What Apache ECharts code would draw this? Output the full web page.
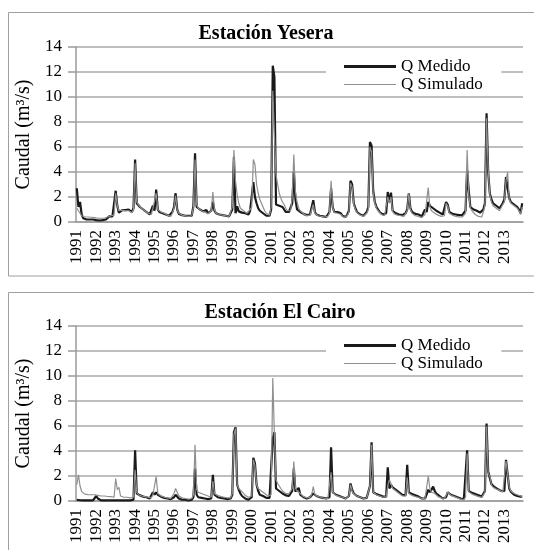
<!DOCTYPE html>
<html lang="es">
<head>
<meta charset="UTF-8">
<script src="https://cdn.jsdelivr.net/npm/echarts@6/dist/echarts.min.js"></script>
<title>Caudales</title>
<style>
  html, body { margin: 0; padding: 0; background: #fff; }
  #main { width: 534px; height: 550px; }
</style>
</head>
<body>
<div id="main"></div>
<script>
// años del eje x (etiquetas) y meses (categorias)
var years = ['1991','1992','1993','1994','1995','1996','1997','1998','1999','2000','2001','2002',
             '2003','2004','2005','2006','2007','2008','2009','2010','2011','2012','2013'];
var yTicks = [0, 2, 4, 6, 8, 10, 12, 14];

// Estación Yesera, caudal mensual (m3/s), ene..dic de cada año
var yeseraMedido = [
  2.7, 1.2, 1.6, 0.6, 0.3, 0.25, 0.2, 0.2, 0.2, 0.2, 0.2, 0.2,
  0.15, 0.12, 0.12, 0.12, 0.15, 0.15, 0.2, 0.35, 0.45, 0.5, 0.45, 0.5,
  2.5, 1.3, 0.75, 0.9, 0.95, 1.0, 0.95, 0.9, 1.0, 0.9, 0.8, 1.1,
  5.0, 1.5, 1.4, 1.2, 1.1, 1.0, 0.9, 0.8, 0.7, 0.6, 0.6, 1.3,
  0.9, 2.6, 1.0, 0.8, 0.75, 0.7, 0.65, 0.6, 0.55, 0.5, 0.45, 0.8,
  1.2, 2.3, 1.0, 0.65, 0.6, 0.55, 0.55, 0.5, 0.5, 0.5, 0.45, 0.5,
  1.3, 5.5, 1.2, 1.1, 1.0, 0.9, 0.85, 0.8, 0.95, 0.7, 0.6, 0.9,
  1.6, 0.9, 0.7, 0.6, 0.6, 0.55, 0.55, 0.5, 0.5, 0.45, 0.45, 0.45,
  1.0, 5.2, 0.7, 1.25, 0.85, 0.8, 0.75, 0.75, 0.7, 0.65, 0.6, 0.9,
  1.0, 3.2, 2.0, 1.5, 1.1, 0.9, 0.8, 0.7, 0.6, 0.5, 0.4, 0.5,
  1.0, 12.5, 11.6, 1.4, 1.35, 1.3, 1.3, 1.2, 1.0, 0.8, 0.75, 0.8,
  0.9, 1.5, 4.0, 1.8, 1.0, 0.9, 0.8, 0.7, 0.65, 0.6, 0.55, 0.6,
  0.6, 0.7, 1.75, 0.8, 0.6, 0.55, 0.5, 0.5, 0.45, 0.45, 0.4, 0.5,
  0.8, 2.7, 1.2, 0.8, 0.7, 0.8, 0.95, 0.7, 0.5, 0.4, 0.4, 0.6,
  0.9, 3.3, 3.0, 1.5, 1.1, 0.8, 0.7, 0.6, 0.55, 0.5, 0.5, 0.8,
  1.2, 6.4, 6.1, 2.5, 1.6, 1.2, 1.0, 0.8, 0.7, 0.6, 0.55, 0.7,
  2.4, 1.6, 2.35, 0.9, 0.75, 0.7, 0.65, 0.6, 0.6, 0.55, 0.5, 0.7,
  1.0, 2.3, 1.1, 0.8, 0.7, 0.65, 0.6, 0.6, 0.5, 0.45, 0.6, 1.0,
  0.8, 1.6, 1.3, 1.2, 1.1, 1.0, 0.9, 0.8, 0.75, 0.7, 0.6, 0.7,
  1.6, 1.4, 0.8, 0.7, 0.65, 0.6, 0.6, 0.55, 0.55, 0.5, 0.55, 0.6,
  0.9, 4.15, 2.5, 1.2, 1.1, 1.0, 1.0, 0.9, 0.8, 0.75, 0.7, 1.0,
  1.5, 8.7, 4.0, 2.3, 1.8, 1.5, 1.4, 1.3, 1.2, 1.1, 1.0, 1.5,
  1.8, 3.6, 3.5, 1.9, 1.6, 1.5, 1.4, 1.3, 1.2, 1.0, 0.7, 1.5
];
var yeseraSimulado = [
  1.1, 0.9, 0.7, 0.5, 0.45, 0.4, 0.4, 0.4, 0.4, 0.38, 0.35, 0.35,
  0.35, 0.3, 0.3, 0.3, 0.3, 0.3, 0.35, 0.4, 0.45, 0.5, 0.45, 0.55,
  2.3, 1.3, 0.9, 0.9, 0.95, 0.95, 0.9, 0.85, 0.9, 0.8, 0.75, 1.0,
  4.7, 1.6, 1.4, 1.25, 1.1, 1.0, 0.9, 0.8, 0.7, 0.65, 0.6, 1.1,
  1.0, 2.3, 1.0, 0.85, 0.8, 0.75, 0.7, 0.6, 0.55, 0.5, 0.45, 0.7,
  1.1, 2.1, 1.0, 0.7, 0.6, 0.55, 0.55, 0.5, 0.5, 0.45, 0.45, 0.5,
  1.2, 5.0, 1.4, 1.1, 1.0, 0.9, 0.85, 0.8, 0.85, 0.65, 0.6, 0.9,
  2.4, 1.0, 0.7, 0.6, 0.6, 0.55, 0.55, 0.5, 0.5, 0.45, 0.45, 0.5,
  1.2, 5.75, 3.3, 2.2, 1.5, 1.1, 1.0, 0.9, 0.8, 0.7, 0.65, 1.0,
  1.2, 5.0, 4.6, 3.0, 2.3, 1.8, 1.5, 1.2, 0.9, 0.7, 0.6, 0.55,
  1.2, 10.5, 7.0, 3.8, 3.0, 2.3, 1.9, 1.6, 1.4, 1.1, 0.9, 0.9,
  0.9, 2.0, 5.4, 2.4, 1.6, 1.1, 0.9, 0.75, 0.65, 0.55, 0.5, 0.55,
  0.55, 0.6, 1.4, 0.7, 0.55, 0.5, 0.45, 0.45, 0.4, 0.4, 0.35, 0.45,
  0.7, 3.3, 1.2, 0.75, 0.6, 0.7, 0.8, 0.6, 0.45, 0.35, 0.35, 0.5,
  0.8, 3.1, 2.8, 1.4, 1.0, 0.75, 0.6, 0.55, 0.5, 0.45, 0.45, 0.7,
  1.0, 6.0, 5.6, 2.3, 1.5, 1.1, 0.9, 0.75, 0.6, 0.55, 0.5, 0.6,
  2.0, 1.5, 2.0, 0.85, 0.65, 0.6, 0.55, 0.5, 0.5, 0.45, 0.45, 0.6,
  0.9, 2.3, 1.0, 0.7, 0.6, 0.5, 0.45, 0.45, 0.4, 0.35, 0.4, 0.6,
  0.7, 2.75, 1.2, 0.9, 0.8, 0.7, 0.6, 0.55, 0.5, 0.45, 0.4, 0.5,
  1.5, 1.3, 0.7, 0.6, 0.55, 0.5, 0.45, 0.4, 0.4, 0.35, 0.4, 0.5,
  0.7, 5.75, 2.2, 1.1, 0.9, 0.75, 0.6, 0.5, 0.45, 0.4, 0.4, 0.8,
  1.3, 8.3, 4.2, 2.2, 1.6, 1.3, 1.2, 1.1, 1.0, 0.9, 0.85, 1.4,
  1.6, 3.3, 4.0, 1.8, 1.5, 1.4, 1.3, 1.2, 1.1, 0.9, 0.6, 1.2
];

// Estación El Cairo
var cairoMedido = [
  0.1, 0.08, 0.06, 0.05, 0.05, 0.05, 0.05, 0.05, 0.05, 0.05, 0.05, 0.1,
  0.4, 0.2, 0.1, 0.05, 0.05, 0.05, 0.05, 0.05, 0.05, 0.05, 0.05, 0.05,
  0.08, 0.06, 0.06, 0.05, 0.05, 0.05, 0.05, 0.05, 0.05, 0.05, 0.05, 0.1,
  4.05, 0.6, 0.5, 0.45, 0.4, 0.35, 0.3, 0.3, 0.25, 0.2, 0.2, 0.7,
  0.5, 0.7, 0.5, 0.4, 0.35, 0.3, 0.25, 0.2, 0.2, 0.15, 0.15, 0.2,
  0.3, 0.5, 0.35, 0.2, 0.15, 0.1, 0.1, 0.1, 0.05, 0.05, 0.05, 0.1,
  0.3, 2.6, 0.5, 0.3, 0.25, 0.25, 0.2, 0.2, 0.15, 0.15, 0.1, 0.2,
  2.1, 0.5, 0.35, 0.3, 0.3, 0.25, 0.25, 0.2, 0.15, 0.15, 0.15, 0.2,
  0.5, 5.5, 5.9, 1.3, 0.9, 0.6, 0.4, 0.3, 0.2, 0.12, 0.1, 0.15,
  0.3, 3.45, 3.0, 1.3, 0.8, 0.5, 0.45, 0.4, 0.3, 0.25, 0.2, 0.25,
  0.4, 5.0, 5.5, 1.0, 0.9, 0.8, 0.7, 0.6, 0.5, 0.45, 0.4, 0.4,
  0.4, 0.8, 2.6, 0.75, 0.6, 1.05, 0.5, 0.4, 0.3, 0.25, 0.2, 0.2,
  0.3, 0.4, 0.6, 0.45, 0.4, 0.35, 0.3, 0.3, 0.25, 0.2, 0.2, 0.2,
  0.3, 4.3, 0.7, 0.6, 0.5, 0.45, 0.4, 0.35, 0.3, 0.25, 0.2, 0.25,
  0.4, 1.4, 0.9, 0.6, 0.5, 0.4, 0.35, 0.3, 0.25, 0.2, 0.2, 0.25,
  0.3, 1.2, 4.7, 0.7, 0.6, 0.55, 0.5, 0.45, 0.4, 0.35, 0.3, 0.35,
  2.7, 1.0, 1.3, 1.1, 1.0, 0.9, 0.85, 0.7, 0.6, 0.5, 0.4, 0.45,
  2.9, 0.7, 0.6, 0.55, 0.5, 0.45, 0.4, 0.35, 0.3, 0.2, 0.15, 0.2,
  0.3, 0.9, 0.7, 0.9, 1.15, 0.8, 0.6, 0.5, 0.4, 0.3, 0.2, 0.2,
  0.3, 0.7, 0.6, 0.5, 0.45, 0.4, 0.35, 0.3, 0.25, 0.2, 0.15, 0.15,
  0.3, 4.05, 0.8, 0.7, 0.65, 0.6, 0.55, 0.5, 0.45, 0.4, 0.35, 0.5,
  0.8, 6.2, 2.35, 2.4, 1.35, 1.2, 1.1, 1.0, 0.95, 0.9, 0.8, 0.75,
  0.8, 3.3, 3.4, 1.0, 0.75, 0.6, 0.5, 0.45, 0.4, 0.35, 0.35, 0.35
];
var cairoSimulado = [
  1.3, 2.1, 1.2, 0.75, 0.6, 0.55, 0.55, 0.5, 0.5, 0.5, 0.5, 0.5,
  0.5, 0.45, 0.45, 0.4, 0.4, 0.4, 0.38, 0.36, 0.35, 0.35, 0.33, 0.3,
  1.8, 0.9, 1.1, 0.4, 0.35, 0.3, 0.3, 0.3, 0.3, 0.25, 0.25, 0.3,
  2.5, 0.7, 0.5, 0.45, 0.4, 0.4, 0.35, 0.3, 0.3, 0.25, 0.25, 0.5,
  0.6, 1.95, 0.6, 0.45, 0.4, 0.35, 0.3, 0.3, 0.25, 0.25, 0.2, 0.25,
  0.6, 1.0, 0.9, 0.4, 0.3, 0.25, 0.2, 0.2, 0.2, 0.15, 0.15, 0.2,
  0.5, 4.5, 0.9, 0.7, 0.65, 0.6, 0.55, 0.5, 0.45, 0.4, 0.35, 0.3,
  1.6, 0.6, 0.5, 0.45, 0.4, 0.35, 0.3, 0.3, 0.25, 0.25, 0.2, 0.25,
  0.6, 5.3, 5.8, 1.3, 1.0, 0.85, 0.75, 0.6, 0.45, 0.35, 0.3, 0.35,
  0.4, 3.3, 2.8, 1.3, 1.0, 0.9, 0.8, 0.75, 0.6, 0.5, 0.4, 0.4,
  0.5, 9.84, 5.3, 1.7, 1.4, 1.2, 1.0, 0.8, 0.7, 0.6, 0.55, 0.6,
  0.5, 1.0, 3.15, 1.0, 0.8, 0.9, 0.6, 0.45, 0.35, 0.3, 0.25, 0.25,
  0.3, 0.5, 1.15, 0.5, 0.4, 0.35, 0.35, 0.3, 0.25, 0.2, 0.2, 0.2,
  0.3, 2.3, 0.7, 0.55, 0.45, 0.4, 0.35, 0.3, 0.3, 0.25, 0.2, 0.25,
  0.4, 1.3, 0.8, 0.55, 0.45, 0.4, 0.35, 0.3, 0.25, 0.2, 0.2, 0.25,
  0.3, 1.2, 4.5, 0.7, 0.55, 0.5, 0.45, 0.4, 0.35, 0.3, 0.3, 0.35,
  1.2, 1.7, 1.4, 1.0, 0.9, 0.8, 0.7, 0.6, 0.5, 0.4, 0.35, 0.4,
  1.9, 0.6, 0.5, 0.45, 0.4, 0.35, 0.35, 0.3, 0.25, 0.2, 0.15, 0.2,
  0.3, 2.0, 1.0, 0.7, 0.8, 0.6, 0.45, 0.35, 0.3, 0.25, 0.2, 0.2,
  0.3, 0.7, 0.55, 0.45, 0.4, 0.35, 0.3, 0.25, 0.2, 0.15, 0.12, 0.12,
  0.3, 3.8, 0.75, 0.6, 0.55, 0.5, 0.45, 0.4, 0.35, 0.3, 0.3, 0.45,
  0.7, 5.95, 2.2, 2.0, 1.3, 1.1, 1.0, 0.95, 0.9, 0.85, 0.75, 0.7,
  0.7, 3.2, 3.3, 1.1, 0.8, 0.7, 0.6, 0.55, 0.5, 0.45, 0.4, 0.35
];

// categorias mensuales "aaaa-mm"
var months = [];
years.forEach(function (y) {
    for (var m = 1; m <= 12; m++) months.push(y + '-' + (m < 10 ? '0' + m : m));
});

var FONT = "'Liberation Serif', 'Times New Roman', serif";
var GRID_TOPS = [47, 326];
var PLOT_H = 175;

function xAxisFor(i) {
    return {
        type: 'category', gridIndex: i, data: months, boundaryGap: true,
        axisLine: { lineStyle: { color: '#9a9a9a', width: 1.5 } },
        axisTick: { show: false },
        axisLabel: {
            interval: 11, rotate: 90, margin: 8,
            fontFamily: FONT, fontSize: 17, color: '#000',
            formatter: function (v) { return v.slice(0, 4); }
        }
    };
}

function yAxisFor(i) {
    return {
        type: 'value', gridIndex: i, min: yTicks[0], max: yTicks[yTicks.length - 1], interval: 2,
        name: 'Caudal (m³/s)', nameLocation: 'middle', nameGap: 38,
        nameTextStyle: { fontFamily: FONT, fontSize: 20, color: '#000' },
        axisLine: { show: true, lineStyle: { color: '#9a9a9a', width: 1.5 } },
        axisTick: { show: true, length: 8, lineStyle: { color: '#9a9a9a', width: 1.5 } },
        splitLine: { lineStyle: { color: '#a8a8a8', width: 1.5 } },
        axisLabel: { margin: 14, fontFamily: FONT, fontSize: 17, color: '#000' }
    };
}

function legendsFor(i) {
    var t = GRID_TOPS[i];
    return [
        {   // Q Medido + fondo blanco que tapa la rejilla
            data: ['Q Medido'], orient: 'vertical', left: 326, top: t + 5,
            padding: [6, 31, 20, 18], backgroundColor: '#fff',
            icon: 'rect', itemWidth: 52, itemHeight: 3, z: 4,
            textStyle: { fontFamily: FONT, fontSize: 17, color: '#000', padding: [0, 0, 0, 0] }
        },
        {
            data: ['Q Simulado'], orient: 'vertical', left: 344, top: t + 29,
            padding: 0, icon: 'rect', itemWidth: 52, itemHeight: 1.2, z: 5,
            textStyle: { fontFamily: FONT, fontSize: 17, color: '#000' }
        }
    ];
}

function seriesFor(i, medido, simulado) {
    return [
        {
            name: 'Q Medido', type: 'line', xAxisIndex: i, yAxisIndex: i, data: medido,
            symbol: 'none', color: '#1a1a1a', lineStyle: { color: '#1a1a1a', width: 2.2 }, z: 2
        },
        {
            name: 'Q Simulado', type: 'line', xAxisIndex: i, yAxisIndex: i, data: simulado,
            symbol: 'none', color: '#8f8f8f', lineStyle: { color: '#8f8f8f', width: 1.2 }, z: 3
        }
    ];
}

var chart = echarts.init(document.getElementById('main'), null, { renderer: 'canvas' });

var option = {
    animation: false,
    backgroundColor: '#fff',
    grid: [
        { left: 76, width: 447, top: GRID_TOPS[0], height: PLOT_H },
        { left: 76, width: 447, top: GRID_TOPS[1], height: PLOT_H }
    ],
    xAxis: [xAxisFor(0), xAxisFor(1)],
    yAxis: [yAxisFor(0), yAxisFor(1)],
    legend: legendsFor(0).concat(legendsFor(1)),
    graphic: [
        { type: 'rect', z: -1, shape: { x: 8.5, y: 12.5, width: 540, height: 263.5 },
          style: { fill: '#fff', stroke: '#a0a0a0', lineWidth: 1 } },
        { type: 'rect', z: -1, shape: { x: 8.5, y: 292.5, width: 540, height: 300 },
          style: { fill: '#fff', stroke: '#a0a0a0', lineWidth: 1 } },
        { type: 'text', x: 266, y: 34, z: 10,
          style: { text: 'Estación Yesera', fontFamily: FONT, fontWeight: 'bold', fontSize: 20,
                   fill: '#000', textAlign: 'center', textVerticalAlign: 'middle' } },
        { type: 'text', x: 280, y: 313, z: 10,
          style: { text: 'Estación El Cairo', fontFamily: FONT, fontWeight: 'bold', fontSize: 20,
                   fill: '#000', textAlign: 'center', textVerticalAlign: 'middle' } }
    ],
    series: seriesFor(0, yeseraMedido, yeseraSimulado).concat(seriesFor(1, cairoMedido, cairoSimulado))
};

chart.setOption(option);
</script>
</body>
</html>
